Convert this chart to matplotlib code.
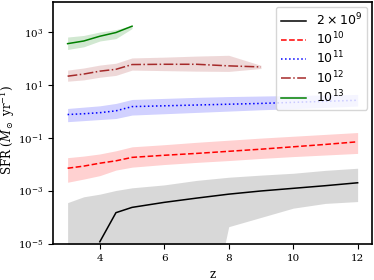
import numpy as np
import matplotlib
matplotlib.use("Agg")
import matplotlib.pyplot as plt
from matplotlib.font_manager import FontProperties
from matplotlib.ticker import NullLocator

plt.rcParams['font.family'] = 'serif'
plt.rcParams['font.serif'] = ['DejaVu Serif']
plt.rcParams['mathtext.fontset'] = 'dejavuserif'

z = [3, 3.5, 4, 4.5, 5, 6, 7, 8, 9, 10, 11, 12]
nan = np.nan

# log10 SFR values
m2e9_med = [nan, nan, -4.92, -3.82, -3.62, -3.43, -3.27, -3.12, -3.0, -2.9, -2.8, -2.69]
m2e9_lo = [-10, -10, -10, -10, -10, -10, -10, -4.35, -4.0, -3.65, -3.47, -3.4]
m2e9_hi = [-3.44, -3.22, -3.12, -2.98, -2.88, -2.77, -2.6, -2.48, -2.4, -2.33, -2.22, -2.14]

m1e10_med = [-2.14, -2.06, -1.95, -1.86, -1.73, -1.65, -1.58, -1.50, -1.42, -1.33, -1.24, -1.14]
m1e10_lo = [-2.67, -2.55, -2.42, -2.21, -2.10, -2.0, -1.92, -1.85, -1.77, -1.70, -1.64, -1.58]
m1e10_hi = [-1.74, -1.68, -1.60, -1.48, -1.33, -1.25, -1.16, -1.08, -1.0, -0.93, -0.86, -0.79]

m1e11_med = [-0.11, -0.08, -0.04, 0.03, 0.19, 0.22, 0.25, 0.28, 0.31, 0.35, 0.39, 0.43]
m1e11_lo = [-0.38, -0.34, -0.30, -0.26, -0.13, -0.08, -0.03, 0.02, 0.07, 0.11, 0.16, 0.21]
m1e11_hi = [0.12, 0.17, 0.22, 0.31, 0.46, 0.50, 0.54, 0.57, 0.59, 0.61, 0.63, 0.65]

z12 = [3, 3.5, 4, 4.5, 5, 6, 7, 8, 9]
m1e12_med = [1.34, 1.42, 1.53, 1.60, 1.78, 1.79, 1.79, 1.73, 1.69]
m1e12_lo = [1.15, 1.20, 1.30, 1.37, 1.57, 1.55, 1.53, 1.52, 1.63]
m1e12_hi = [1.57, 1.65, 1.76, 1.83, 2.03, 2.06, 2.10, 2.13, 1.75]

z13 = [3, 3.5, 4, 4.5, 5]
m1e13_med = [2.57, 2.67, 2.85, 2.99, 3.23]
m1e13_lo = [2.35, 2.45, 2.67, 2.76, 3.14]
m1e13_hi = [2.82, 2.88, 3.01, 3.10, 3.26]

labels = [r'$2\times10^9$', r'$10^{10}$', r'$10^{11}$', r'$10^{12}$', r'$10^{13}$']
yticks = [1e-5, 1e-3, 1e-1, 1e1, 1e3]
xticks = [4, 6, 8, 10, 12]

series = [
    (z, m2e9_med, m2e9_lo, m2e9_hi, 'k', '-', 'gray', 0.3),
    (z, m1e10_med, m1e10_lo, m1e10_hi, 'r', '--', 'r', 0.18),
    (z, m1e11_med, m1e11_lo, m1e11_hi, 'b', ':', 'b', 0.18),
    (z12, m1e12_med, m1e12_lo, m1e12_hi, 'brown', '-.', 'brown', 0.18),
    (z13, m1e13_med, m1e13_lo, m1e13_hi, 'g', '-', 'g', 0.18),
]

fig = plt.figure(figsize=(3.74, 2.8), dpi=100)
ax = fig.add_axes([0.142, 0.129, 0.853, 0.864])

for (zz, med, lo, hi, c, ls, fc, a), lab in zip(series, labels):
    zz = np.array(zz)
    ax.fill_between(zz, 10**np.array(lo), 10**np.array(hi), color=fc, alpha=a, lw=0)
    ax.plot(zz, 10**np.array(med, dtype=float), color=c, ls=ls, lw=1.1, label=lab)

ax.set_yscale('log')
ax.set_ylim(1e-5, 1.4e4)
ax.set_xlim(2.55, 12.45)
ax.set_yticks(yticks)
ax.yaxis.set_minor_locator(NullLocator())
ax.set_xticks(xticks)
ax.tick_params(labelsize=7.5)
for s in ax.spines.values():
    s.set_linewidth(1.2)

ax.set_xlabel('z', fontsize=8.5)
ax.set_ylabel(r'SFR ($M_\odot$ yr$^{-1}$)', fontsize=8.5)
ax.yaxis.set_label_coords(-0.112, 0.47)

leg = ax.legend(loc='upper right', labelspacing=0.2, borderaxespad=0.4,
                prop=FontProperties(family='DejaVu Sans', math_fontfamily='dejavusans', size=9))

fig.savefig('out.png', dpi=100)
